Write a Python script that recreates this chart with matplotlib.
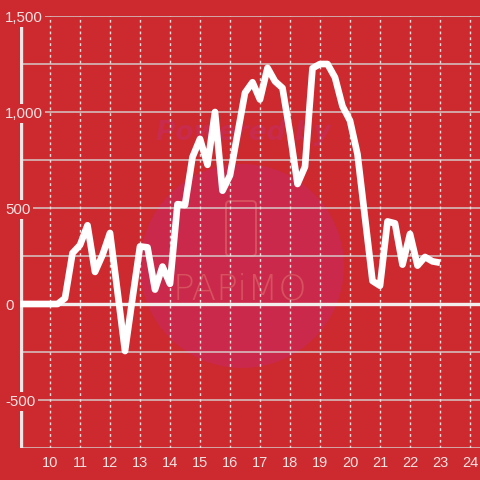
import matplotlib
matplotlib.use('Agg')
import matplotlib.pyplot as plt
from matplotlib.patches import Circle, FancyBboxPatch
from matplotlib.transforms import IdentityTransform

# ---- data ----
times = ["9:00", "9:15", "9:30", "9:45", "10:00", "10:15", "10:30", "10:45",
         "11:00", "11:15", "11:30", "11:45", "12:00", "12:15", "12:30", "12:45",
         "13:00", "13:15", "13:30", "13:45", "14:00", "14:15", "14:30", "14:45",
         "15:00", "15:15", "15:30", "15:45", "16:00", "16:15", "16:30", "16:45",
         "17:00", "17:15", "17:30", "17:45", "18:00", "18:15", "18:30", "18:45",
         "19:00", "19:15", "19:30", "19:45", "20:00", "20:15", "20:30", "20:45",
         "21:00", "21:15", "21:30", "21:45", "22:00", "22:15", "22:30", "22:45",
         "23:00"]
values = [0, 0, 0, 0, 0, 0, 30, 265,
          307, 410, 167, 255, 370, 65, -245, 30,
          300, 295, 75, 195, 105, 520, 515, 765,
          860, 725, 1000, 590, 670, 885, 1100, 1155,
          1065, 1230, 1160, 1125, 890, 625, 715, 1228,
          1250, 1250, 1180, 1030, 955, 780, 450, 120,
          95, 430, 420, 205, 365, 200, 245, 222,
          215]
x_ticks = [10, 11, 12, 13, 14, 15, 16, 17, 18, 19, 20, 21, 22, 23, 24]
y_ticks = [1500, 1000, 500, 0, -500]
y_tick_labels = ["1,500", "1,000", "500", "0", "-500"]
grid_levels = [-500, -250, 250, 500, 750, 1000, 1250, 1500]

hours = [int(t.split(":")[0]) + int(t.split(":")[1]) / 60 for t in times]

BG = '#cc2a2f'
TXT = '#f3e2e2'
GRID = '#d6c8c8'

fig = plt.figure(figsize=(4.8, 4.8), dpi=100, facecolor=BG)

# ---- watermark (pixel coordinates, drawn behind the axes) ----
H = 480
ident = IdentityTransform()
fig.patches.append(Circle((242, H - 266), 102, transform=ident,
                          facecolor='#ca294b', edgecolor='none', zorder=-2))
fig.text(243, H - 133, "Powered by", transform=ident, ha='center', va='center',
         fontsize=19, fontstyle='italic', fontweight='bold', color='#c82b4c',
         family='DejaVu Sans', zorder=-1)
fig.patches.append(FancyBboxPatch((226, H - 256), 30, 55,
                                  boxstyle="round,pad=0,rounding_size=4",
                                  transform=ident, facecolor='none',
                                  edgecolor='#d6525f', linewidth=1.4, zorder=-1))
fig.text(240, H - 290, "PAPiMO", transform=ident, ha='center', va='center',
         fontsize=26, fontweight='light', color='#d6525f',
         family='DejaVu Sans', zorder=-1)

# ---- axes ----
ax = fig.add_axes([20 / 480, 32 / 480, 460 / 480, 432 / 480])
ax.set_facecolor('none')
ax.set_xlim(9, 9 + 460 / 30)
ax.set_ylim(-750, 1500)
for s in ax.spines.values():
    s.set_visible(False)

for g in grid_levels:
    ax.axhline(g, color=GRID, lw=1.1, zorder=1)
ax.axhline(-750, color=GRID, lw=1.1, zorder=1)
for xt in x_ticks:
    ax.axvline(xt, color='#eedede', lw=1, ls=(0, (2, 2.2)), zorder=1)
ax.axvline(9 + 0.5 / 30, color='#eee6e6', lw=2.4, zorder=1.2)
ax.axhline(0, color='#f2eeee', lw=2.4, zorder=1.3)

ax.plot(hours, values, color='white', lw=4.8, solid_joinstyle='round',
        solid_capstyle='butt', zorder=3)

ax.set_xticks(x_ticks)
ax.set_xticklabels([str(v) for v in x_ticks])
ax.set_yticks(y_ticks)
ax.set_yticklabels(y_tick_labels, ha='left')
ax.tick_params(axis='x', length=0, pad=6, labelsize=10.5, labelcolor=TXT)
ax.tick_params(axis='y', length=0, pad=10.8, labelsize=10.8, labelcolor=TXT)
for lab in ax.get_xticklabels() + ax.get_yticklabels():
    lab.set_family('Liberation Sans')
for lab in ax.get_yticklabels():
    lab.set_bbox(dict(facecolor=BG, edgecolor='none', pad=1.6))
ax.set_axisbelow('line')

fig.savefig('out.png', dpi=100, facecolor=BG)
